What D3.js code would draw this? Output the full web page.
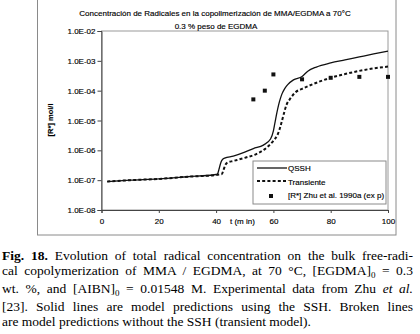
<!DOCTYPE html>
<html>
<head>
<meta charset="utf-8">
<script src="https://cdn.jsdelivr.net/npm/d3@7"></script>
<style>
  body { margin: 0; background: #fff; width: 420px; height: 334px; overflow: hidden; position: relative; }
  svg { position: absolute; left: 0; top: 0; }
  .chart-text { font-family: 'Liberation Sans', Arial, sans-serif; fill: #000; stroke: #000; stroke-width: 0.15px; }
  #caption { position: absolute; left: 2px; top: 247.6px; width: 411px;
    font-family: 'Liberation Serif', 'Times New Roman', serif; font-size: 13.5px; line-height: 15.7px; color: #000; }
  #caption div { text-align: justify; text-align-last: justify; white-space: nowrap; }
  #caption div.last { text-align-last: left; }
  .sub0 { font-size: 9px; position: relative; top: 3px; }
</style>
</head>
<body>
<script>
const SIZE = Object.freeze({ WIDTH: 420, HEIGHT: 334 }),
      PLOT = Object.freeze({ LEFT: 101.5, RIGHT: 388, TOP: 31, BOTTOM: 210 })

const TITLE = 'Concentración de Radicales en la copolimerización de MMA/EGDMA a 70°C',
      SUBTITLE = '0.3 % peso de EGDMA',
      Y_LABEL = '[R*] mol/l',
      X_LABEL = 't (m in)',
      LEGEND_LABELS = ['QSSH', 'Transiente', '[R*] Zhu et al. 1990a (ex p)'],
      X_TICKS = [0, 20, 40, 60, 80, 100],
      Y_TICKS = [1e-8, 1e-7, 1e-6, 1e-5, 1e-4, 1e-3, 1e-2]

// QSSH model (solid)
const qsshTime = [2, 10, 20, 30, 40, 40.6, 41, 41.5, 42, 43, 46, 50, 53, 56.5, 59, 60, 60.6, 61.2, 61.8, 62.4, 63, 64, 65, 67, 70, 72, 75, 80, 85, 90, 95, 100],
      qsshConc = [9e-8, 1e-7, 1.1e-7, 1.3e-7, 1.55e-7, 1.7e-7, 2.3e-7, 3.5e-7, 4.6e-7, 5.5e-7, 6.4e-7, 8.7e-7, 1.15e-6, 1.5e-6, 2.4e-6, 4.5e-6, 9e-6, 1.8e-5, 3.3e-5, 5.3e-5, 7.8e-5, 1.2e-4, 1.6e-4, 2.3e-4, 3.0e-4, 4.5e-4, 6.2e-4, 8.5e-4, 1.07e-3, 1.35e-3, 1.7e-3, 2.1e-3]

// transient model (dashed)
const transTime = [2, 10, 20, 30, 40, 42, 42.6, 43.2, 44, 46, 50, 54, 57, 60, 61.5, 62.5, 63.5, 64.5, 66, 68, 70, 72, 76, 80, 85, 90, 95, 100],
      transConc = [9e-8, 1e-7, 1.1e-7, 1.3e-7, 1.5e-7, 1.6e-7, 2.2e-7, 3.2e-7, 3.9e-7, 4.4e-7, 5.6e-7, 7.5e-7, 1.1e-6, 2.1e-6, 3.4e-6, 6.5e-6, 1.5e-5, 3.2e-5, 5.6e-5, 9.3e-5, 1.15e-4, 1.4e-4, 2.0e-4, 2.7e-4, 3.6e-4, 4.6e-4, 5.6e-4, 6.4e-4]

// Zhu et al. 1990a experimental
const expTime = [53, 57, 60, 70, 80, 90, 100],
      expConc = [5.1e-5, 1.0e-4, 3.5e-4, 2.4e-4, 2.7e-4, 2.9e-4, 2.9e-4]

const CAPTION_LINES = [
  '<b>Fig. 18.</b> Evolution of total radical concentration on the bulk free-radi-',
  'cal copolymerization of MMA / EGDMA, at 70 °C, [EGDMA]<span class="sub0">0</span> = 0.3',
  'wt. %, and [AIBN]<span class="sub0">0</span> = 0.01548 M. Experimental data from Zhu <i>et al.</i>',
  '[23]. Solid lines are model predictions using the SSH. Broken lines',
  'are model predictions without the SSH (transient model).'
]

const zip = (xs, ys) => xs.map((x, i) => ({ t: x, c: ys[i] }))
const formatExp = d => `1.0E-${String(-Math.round(Math.log10(d))).padStart(2, '0')}`

const xScale = d3.scaleLinear().domain([0, 100]).range([PLOT.LEFT, PLOT.RIGHT]),
      yScale = d3.scaleLog().domain([1e-8, 1e-2]).range([PLOT.BOTTOM, PLOT.TOP])

const svg = d3.select('body').append('svg')
  .attr('width', SIZE.WIDTH)
  .attr('height', SIZE.HEIGHT)

// outer chart frame
svg.append('rect')
  .attr('x', 37.5).attr('y', -1)
  .attr('width', 358.5).attr('height', 236)
  .attr('fill', '#fff')
  .attr('stroke', '#8a8a8a')

// plot area frame
svg.append('rect')
  .attr('x', PLOT.LEFT).attr('y', PLOT.TOP)
  .attr('width', PLOT.RIGHT - PLOT.LEFT).attr('height', PLOT.BOTTOM - PLOT.TOP)
  .attr('fill', 'none')
  .attr('stroke', '#9a9a9a')

svg.append('text')
  .attr('class', 'chart-text')
  .attr('x', 215).attr('y', 15.5)
  .attr('text-anchor', 'middle')
  .style('font-size', '8px')
  .text(TITLE)

svg.append('text')
  .attr('class', 'chart-text')
  .attr('x', 216).attr('y', 29.3)
  .attr('text-anchor', 'middle')
  .style('font-size', '8px')
  .text(SUBTITLE)

const yAxis = svg.append('g')
  .attr('transform', `translate(${PLOT.LEFT}, 0)`)
  .call(d3.axisLeft(yScale).tickValues(Y_TICKS).tickFormat(formatExp).tickSize(4).tickPadding(2))
const xAxis = svg.append('g')
  .attr('transform', `translate(0, ${PLOT.BOTTOM})`)
  .call(d3.axisBottom(xScale).tickValues(X_TICKS).tickSize(3).tickPadding(5.5))

;[yAxis, xAxis].forEach(ax => {
  ax.select('.domain').attr('stroke', '#444')
  ax.selectAll('.tick line').attr('stroke', '#444')
  ax.selectAll('text')
    .attr('class', 'chart-text')
    .style('font-size', '8px')
})

svg.append('text')
  .attr('class', 'chart-text')
  .attr('transform', `translate(53, 120) rotate(-90)`)
  .attr('text-anchor', 'middle')
  .style('font-size', '7.5px')
  .style('font-weight', 'bold')
  .text(Y_LABEL)

svg.append('text')
  .attr('class', 'chart-text')
  .attr('x', 230).attr('y', 224.3)
  .style('font-size', '8px')
  .text(X_LABEL)

const line = d3.line()
  .x(d => xScale(d.t))
  .y(d => yScale(d.c))
  .curve(d3.curveMonotoneX)

svg.append('path')
  .datum(zip(transTime, transConc))
  .attr('d', line)
  .attr('fill', 'none')
  .attr('stroke', '#111')
  .attr('stroke-width', 2)
  .attr('stroke-dasharray', '3,2.2')

svg.append('path')
  .datum(zip(qsshTime, qsshConc))
  .attr('d', line)
  .attr('fill', 'none')
  .attr('stroke', '#111')
  .attr('stroke-width', 1.3)

svg.selectAll('rect.exp')
  .data(zip(expTime, expConc))
  .enter()
  .append('rect')
  .attr('class', 'exp')
  .attr('x', d => xScale(d.t) - 2)
  .attr('y', d => yScale(d.c) - 2)
  .attr('width', 4)
  .attr('height', 4)
  .attr('fill', '#111')

// legend
const legend = svg.append('g').attr('transform', 'translate(253, 161)')
legend.append('rect')
  .attr('width', 133).attr('height', 43)
  .attr('fill', '#fff')
  .attr('stroke', '#8a8a8a')

legend.append('line')
  .attr('x1', 4).attr('x2', 34).attr('y1', 7).attr('y2', 7)
  .attr('stroke', '#111').attr('stroke-width', 1.3)
legend.append('line')
  .attr('x1', 4).attr('x2', 34).attr('y1', 20).attr('y2', 20)
  .attr('stroke', '#111').attr('stroke-width', 2).attr('stroke-dasharray', '3,2.2')
legend.append('rect')
  .attr('x', 16).attr('y', 33).attr('width', 4).attr('height', 4)
  .attr('fill', '#111')

legend.selectAll('text.entry')
  .data(LEGEND_LABELS)
  .enter()
  .append('text')
  .attr('class', 'chart-text entry')
  .attr('x', 35)
  .attr('y', (d, i) => 10 + i * 13.5)
  .style('font-size', '8px')
  .text(d => d)

// caption
const caption = d3.select('body').append('div').attr('id', 'caption')
caption.selectAll('div')
  .data(CAPTION_LINES)
  .enter()
  .append('div')
  .attr('class', (d, i) => i === CAPTION_LINES.length - 1 ? 'last' : null)
  .html(d => d)
</script>
</body>
</html>
